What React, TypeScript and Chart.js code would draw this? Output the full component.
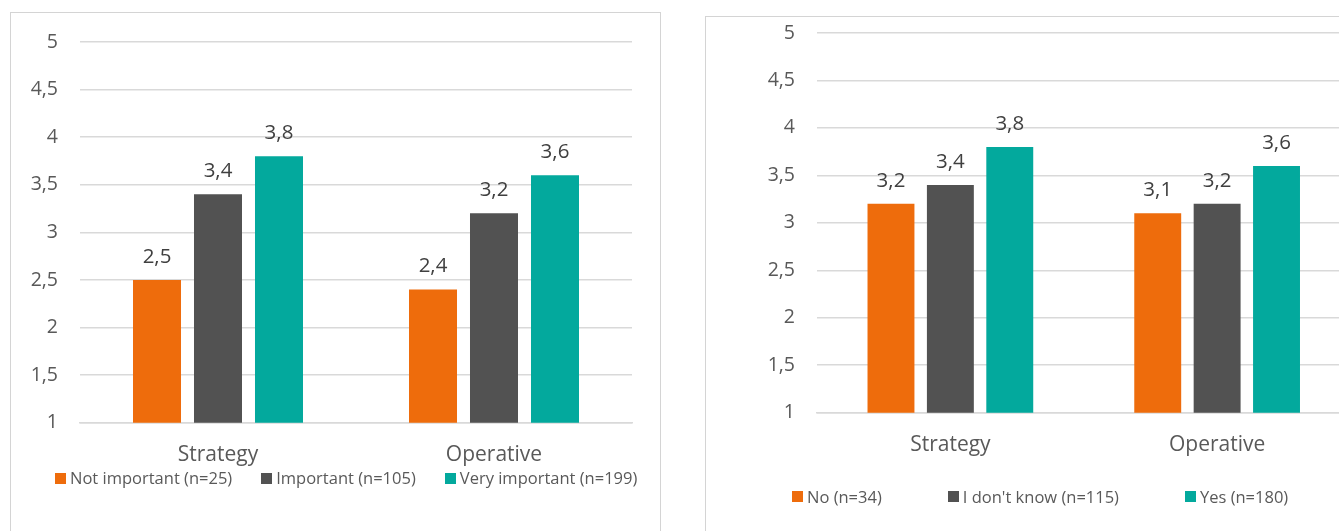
import React, { useEffect, useRef } from "react";
import { Chart, registerables } from "chart.js";

Chart.register(...registerables);

// Shared categories and scale
const categories = ["Strategy", "Operative"];
const yMin = 1;
const yMax = 5;
const yStep = 0.5;

// Left chart: importance groups
const importanceLabels = ["Not important (n=25)", "Important (n=105)", "Very important (n=199)"];
const notImportant = [2.5, 2.4];
const important = [3.4, 3.2];
const veryImportant = [3.8, 3.6];

// Right chart: answer groups
const answerLabels = ["No (n=34)", "I don't know (n=115)", "Yes (n=180)"];
const answerNo = [3.2, 3.1];
const answerDontKnow = [3.4, 3.2];
const answerYes = [3.8, 3.6];

const seriesColors = ["#EE6C0C", "#525252", "#03A99D"];

const FONT = "'Open Sans', Lato, sans-serif";
const GRID = "#D9D9D9";
const TEXT = "#595959";

const fmt = (v: number) => String(v).replace(".", ",");

// Draws the value of each bar above it
const valueLabels = {
  id: "valueLabels",
  afterDatasetsDraw(chart: any) {
    const ctx = chart.ctx;
    ctx.save();
    ctx.font = `20.5px ${FONT}`;
    ctx.fillStyle = "#404040";
    ctx.textAlign = "center";
    ctx.textBaseline = "alphabetic";
    chart.data.datasets.forEach((ds: any, i: number) => {
      const meta = chart.getDatasetMeta(i);
      meta.data.forEach((bar: any, j: number) => {
        ctx.fillText(fmt(ds.data[j]), bar.x, bar.y - 17);
      });
    });
    ctx.restore();
  },
};

type PanelProps = {
  labels: string[];
  series: number[][];
  width: number;
  height: number;
  yAxisWidth: number;
  padTop: number;
  padRight: number;
  xAxisHeight: number;
  xLabelPadding: number;
  categoryPercentage: number;
  barPercentage: number;
};

function BarChart(p: PanelProps) {
  const ref = useRef<HTMLCanvasElement | null>(null);
  useEffect(() => {
    if (!ref.current) return;
    const chart = new Chart(ref.current, {
      type: "bar",
      data: {
        labels: categories,
        datasets: p.series.map((data, i) => ({
          label: p.labels[i],
          data,
          backgroundColor: seriesColors[i],
          borderWidth: 0,
          categoryPercentage: p.categoryPercentage,
          barPercentage: p.barPercentage,
        })),
      },
      options: {
        responsive: false,
        animation: false,
        devicePixelRatio: 1,
        layout: { padding: { top: p.padTop, right: p.padRight, left: 0, bottom: 0 } },
        plugins: { legend: { display: false }, tooltip: { enabled: false } },
        scales: {
          x: {
            grid: { display: false, drawTicks: false },
            border: { color: GRID, width: 1.5 },
            ticks: { font: { family: FONT, size: 21 }, color: TEXT, padding: p.xLabelPadding },
            afterFit: (s: any) => {
              s.height = p.xAxisHeight;
            },
          },
          y: {
            min: yMin,
            max: yMax,
            ticks: {
              stepSize: yStep,
              callback: (v: any) => fmt(Number(v)),
              font: { family: FONT, size: 19.5 },
              color: TEXT,
              padding: 0,
            },
            // invisible tick marks keep the labels clear of the plot
            grid: { color: GRID, lineWidth: 1.5, drawTicks: true, tickLength: 22, tickColor: "rgba(0,0,0,0)" },
            border: { display: false },
            afterFit: (s: any) => {
              s.width = p.yAxisWidth;
            },
          },
        },
      } as any,
      plugins: [valueLabels],
    });
    return () => chart.destroy();
  }, []);
  return <canvas ref={ref} width={p.width} height={p.height} style={{ position: "absolute", left: 0, top: 0 }} />;
}

function Legend({ labels, left, top, gap }: { labels: string[]; left: number; top: number; gap: number }) {
  return (
    <div
      style={{
        position: "absolute",
        left,
        top,
        display: "flex",
        alignItems: "center",
        gap,
        fontFamily: FONT,
        fontSize: 16.5,
        color: TEXT,
        whiteSpace: "nowrap",
        lineHeight: "20px",
      }}
    >
      {labels.map((l, i) => (
        <div key={l} style={{ display: "flex", alignItems: "center" }}>
          <span style={{ display: "inline-block", width: 11, height: 11, background: seriesColors[i], marginRight: 4 }} />
          <span>{l}</span>
        </div>
      ))}
    </div>
  );
}

export default function App() {
  return (
    <div style={{ position: "absolute", left: 0, top: 0, width: 1339, height: 531, overflow: "hidden", background: "#fff" }}>
      <div style={{ position: "absolute", left: 10, top: 12, width: 649, height: 540, border: "1px solid #D4D4D4" }}>
        <BarChart
          labels={importanceLabels}
          series={[notImportant, important, veryImportant]}
          width={649}
          height={500}
          yAxisWidth={69}
          padTop={29}
          padRight={28}
          xAxisHeight={90.3}
          xLabelPadding={20}
          categoryPercentage={0.663}
          barPercentage={0.787}
        />
        <Legend labels={importanceLabels} left={44} top={455} gap={29} />
      </div>
      <div style={{ position: "absolute", left: 705, top: 16, width: 700, height: 540, border: "1px solid #D4D4D4" }}>
        <BarChart
          labels={answerLabels}
          series={[answerNo, answerDontKnow, answerYes]}
          width={680}
          height={480}
          yAxisWidth={111}
          padTop={16}
          padRight={35.5}
          xAxisHeight={84.3}
          xLabelPadding={20}
          categoryPercentage={0.668}
          barPercentage={0.79}
        />
        <Legend labels={answerLabels} left={86} top={469.5} gap={66} />
      </div>
    </div>
  );
}
